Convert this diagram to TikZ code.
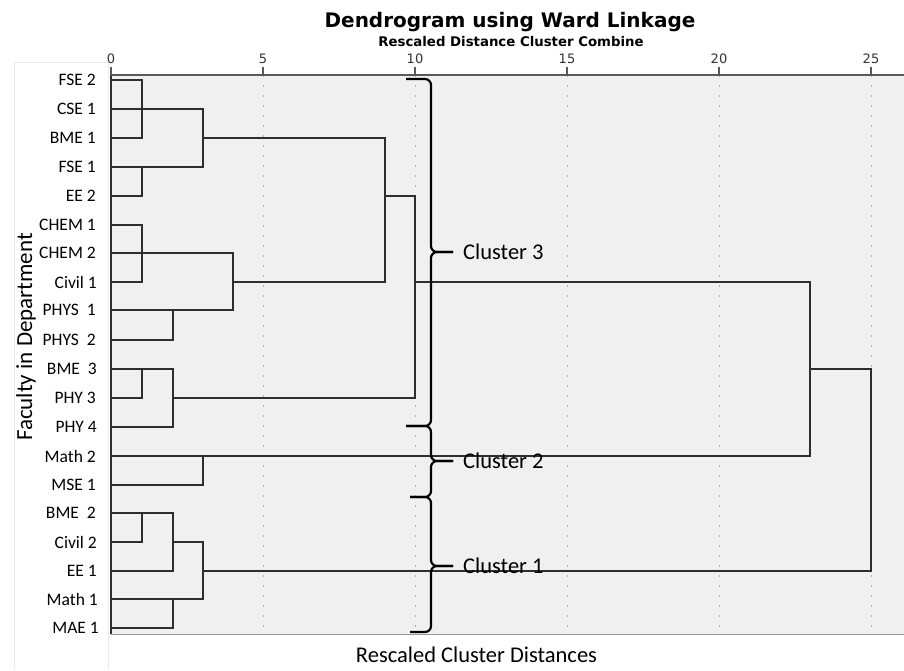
\documentclass[tikz,border=0pt]{standalone}
\usepackage{fontspec}
\setmainfont{Carlito}
\newfontfamily\titlefont{DejaVu Sans}
\definecolor{panelgray}{HTML}{F0F0F0}

\begin{document}
\begin{tikzpicture}[x=1pt, y=-1pt]
\tikzset{leaf/.style = {anchor=east, inner sep=0pt, font=\fontsize{17.5}{20}\selectfont}}
\tikzset{link/.style = {line width=1.5pt, draw=black!82}}
\tikzset{axis/.style = {line width=1.6pt, draw=black!65}}
\tikzset{gridline/.style = {line width=1pt, draw=black!30, dash pattern=on 2pt off 8pt}}
\tikzset{ticklabel/.style = {anchor=base, text=black!80, font=\titlefont\fontsize{13}{15}\selectfont}}
\tikzset{clbrace/.style = {line width=2.2pt, rounded corners=6pt}}
\tikzset{clabel/.style = {anchor=west, inner xsep=10pt, inner ysep=0pt, font=\fontsize{22.5}{26}\selectfont}}
\useasboundingbox (0,0) rectangle (904,670);
\draw[black!8, line width=1pt] (14,670) -- (14,62) -- (108,62) -- (108,670);
\fill[panelgray] (111,75) rectangle (904,634);
\coordinate (d0) at (111,75);
\coordinate (d1) at (142,75);
\coordinate (d2) at (173,75);
\coordinate (d3) at (203,75);
\coordinate (d4) at (233,75);
\coordinate (d9) at (385,75);
\coordinate (d10) at (415,75);
\coordinate (d23) at (810,75);
\coordinate (d25) at (871,75);
\coordinate (base) at (111,634);
\coordinate (sp) at (431,0);
\node[anchor=base, font=\titlefont\fontsize{20}{24}\selectfont\bfseries] (title) at (510,27) {Dendrogram using Ward Linkage};
\node[anchor=base, font=\titlefont\fontsize{13.3}{15}\selectfont\bfseries] (subtitle) at (511,46.5) {Rescaled Distance Cluster Combine};
\node[ticklabel] (t0) at (111,63) {0};
\node[ticklabel] (t5) at (263,63) {5};
\node[ticklabel] (t10) at (415,63) {10};
\node[ticklabel] (t15) at (567,63) {15};
\node[ticklabel] (t20) at (719,63) {20};
\node[ticklabel] (t25) at (871,63) {25};
\draw[gridline] (t5 |- d0) -- (t5 |- base);
\draw[gridline] (t10 |- d0) -- (t10 |- base);
\draw[gridline] (t15 |- d0) -- (t15 |- base);
\draw[gridline] (t20 |- d0) -- (t20 |- base);
\draw[gridline] (t25 |- d0) -- (t25 |- base);
\node[leaf] (fse2) at (96,80) {FSE 2};
\node[leaf] (cse1) at (96,109) {CSE 1};
\node[leaf] (bme1) at (96,138) {BME 1};
\node[leaf] (fse1) at (96,167) {FSE 1};
\node[leaf] (ee2) at (96,196) {EE 2};
\node[leaf] (chem1) at (96,225) {CHEM 1};
\node[leaf] (chem2) at (96,253) {CHEM 2};
\node[leaf] (civil1) at (97,282) {Civil 1};
\node[leaf] (phys1) at (96,310) {PHYS~~1};
\node[leaf] (phys2) at (96,340) {PHYS~~2};
\node[leaf] (bme3) at (97,369) {BME~~3};
\node[leaf] (phy3) at (96,398) {PHY 3};
\node[leaf] (phy4) at (97,427) {PHY 4};
\node[leaf] (math2) at (96,456) {Math 2};
\node[leaf] (mse1) at (96,485) {MSE 1};
\node[leaf] (bme2) at (96,513) {BME~~2};
\node[leaf] (civil2) at (97,542) {Civil 2};
\node[leaf] (ee1) at (97,571) {EE 1};
\node[leaf] (math1) at (98,599) {Math 1};
\node[leaf] (mae1) at (99,628) {MAE 1};
\draw[link] (fse2 -| d0) -| (bme1 -| d1) -- (bme1 -| d0);
\draw[link] (cse1 -| d0) -| (fse1 -| d3) -- (fse1 -| d0);
\draw[link] (ee2 -| d0) -| (fse1 -| d1);
\draw[link] (bme1 -| d3) -| (civil1 -| d9) -- (civil1 -| d4);
\draw[link] (chem1 -| d0) -| (civil1 -| d1) -- (civil1 -| d0);
\draw[link] (chem2 -| d0) -| (phys1 -| d4) -- (phys1 -| d0);
\draw[link] (phys2 -| d0) -| (phys1 -| d2);
\draw[link] (bme3 -| d0) -| (phy4 -| d2) -- (phy4 -| d0);
\draw[link] (phy3 -| d0) -| (bme3 -| d1);
\draw[link] (phy3 -| d2) -| (ee2 -| d10) -- (ee2 -| d9);
\draw[link] (civil1 -| d10) -| (math2 -| d23) -- (math2 -| d0);
\draw[link] (mse1 -| d0) -| (math2 -| d3);
\draw[link] (bme2 -| d0) -| (ee1 -| d2) -- (ee1 -| d0);
\draw[link] (civil2 -| d0) -| (bme2 -| d1);
\draw[link] (civil2 -| d2) -| (math1 -| d3) -- (math1 -| d0);
\draw[link] (mae1 -| d0) -| (math1 -| d2);
\draw[link] (ee1 -| d3) -| (bme3 -| d25) -- (bme3 -| d23);
\draw[link] (d0) -- (base);
\draw[black!40, line width=1pt] (base) -- (904,634);
\draw[axis] (d0) -- (904,75);
\draw[axis] (t0 |- d0) -- ++(0,-8);
\draw[axis] (t5 |- d0) -- ++(0,-8);
\draw[axis] (t10 |- d0) -- ++(0,-8);
\draw[axis] (t15 |- d0) -- ++(0,-8);
\draw[axis] (t20 |- d0) -- ++(0,-8);
\draw[axis] (t25 |- d0) -- ++(0,-8);
\coordinate (b3) at (406,79);
\coordinate (b32) at (406,426);
\coordinate (b21) at (410,497);
\coordinate (b1) at (410,632);
\node[clabel] (cl3) at (453,252) {Cluster 3};
\node[clabel] (cl2) at (453,461) {Cluster 2};
\node[clabel] (cl1) at (453,566) {Cluster 1};
\draw[clbrace] (b3) -| (cl3.west -| sp) -- (cl3.west);
\draw[clbrace] (b32) -| (cl3.west -| sp) -- (cl3.west);
\draw[clbrace] (b32) -| (cl2.west -| sp) -- (cl2.west);
\draw[clbrace] (b21) -| (cl2.west -| sp) -- (cl2.west);
\draw[clbrace] (b21) -| (cl1.west -| sp) -- (cl1.west);
\draw[clbrace] (b1) -| (cl1.west -| sp) -- (cl1.west);
\node[anchor=base, font=\fontsize{22.5}{26}\selectfont] (xlabel) at (476.5,662) {Rescaled Cluster Distances};
\node[anchor=base, rotate=90, font=\fontsize{23}{26}\selectfont] (ylabel) at (32,337) {Faculty in Department};
\end{tikzpicture}
\end{document}
